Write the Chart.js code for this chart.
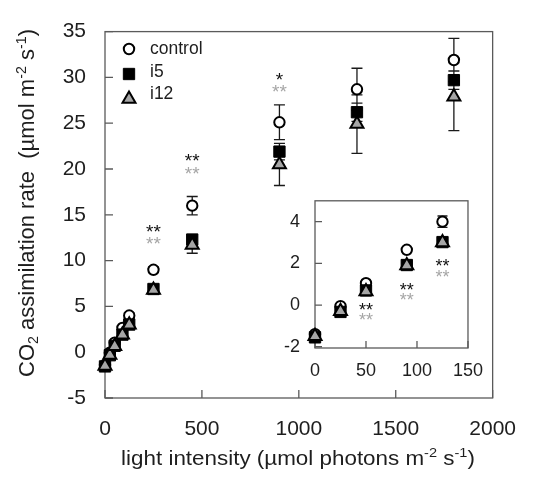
<!DOCTYPE html>
<html>
<head>
<meta charset="utf-8">
<script src="https://cdn.jsdelivr.net/npm/chart.js@4.4.1/dist/chart.umd.min.js"></script>
<style>
  body { margin: 0; background: #fff; }
  #wrap { position: relative; width: 535px; height: 478px; }
  #main { position: absolute; left: 0; top: 0; }
  #inset { position: absolute; left: 265px; top: 175px; }
</style>
</head>
<body>
<div id="wrap">
  <canvas id="main" width="535" height="478" style="width:535px;height:478px"></canvas>
  <canvas id="inset" width="230" height="210" style="width:230px;height:210px"></canvas>
</div>
<script>
// light intensity (umol photons m-2 s-1)
const light = [0, 25, 50, 90, 125, 250, 450, 900, 1300, 1800]

// CO2 assimilation rate, mean and error
const control    = [-1.4, -0.05, 1.05, 2.65, 4.0, 9.0, 16.0, 25.1, 28.7, 31.9]
const controlErr = [0.1, 0.12, 0.15, 0.12, 0.27, 0.3, 1.0, 1.9, 2.3, 2.35]
const i5         = [-1.55, -0.33, 0.7, 1.92, 3.02, 6.9, 12.3, 21.9, 26.2, 29.7]
const i5Err      = [0.1, 0.1, 0.12, 0.1, 0.12, 0.3, 0.5, 0.9, 1.0, 1.0]
const i12        = [-1.5, -0.3, 0.65, 1.9, 3.0, 6.8, 11.7, 20.5, 24.9, 27.9]
const i12Err     = [0.1, 0.1, 0.12, 0.1, 0.12, 0.3, 0.9, 2.3, 3.2, 3.7]

// axis ticks
const mainXTicks = [0, 500, 1000, 1500, 2000]
const mainYTicks = [-5, 0, 5, 10, 15, 20, 25, 30, 35]
const insetXTicks = [0, 50, 100, 150]
const insetYTicks = [-2, 0, 2, 4]

// significance marks (black = i5, gray = i12)
const starsMainX = [250, 450, 900]
const starsMainI5 = ['**', '**', '*']
const starsMainI5Y = [13.6, 21.3, 30.2]
const starsMainI12 = ['**', '**', '**']
const starsMainI12Y = [12.2, 19.9, 28.8]

const starsInsetX = [50, 90, 125]
const starsInsetI5 = ['**', '**', '**']
const starsInsetI5Y = [-0.07, 0.9, 2.03]
const starsInsetI12 = ['**', '**', '**']
const starsInsetI12Y = [-0.55, 0.39, 1.5]

const FONT = '"Liberation Sans", Arial, sans-serif'
const AXIS = '#5a5a5a'
const TXT = '#1e1e1e'
const GRAY = '#a6a6a6'

function pts(ys) {
  var out = []
  for (var i = 0; i < light.length; i++) out.push({ x: light[i], y: ys[i] })
  return out
}

function datasets(clip) {
  return [
    {
      label: 'i12', data: pts(i12), err: i12Err, order: 0,
      pointStyle: 'triangle', pointRadius: 7.5, backgroundColor: GRAY,
      borderColor: '#000', pointBorderWidth: 2, showLine: false, clip: clip
    },
    {
      label: 'i5', data: pts(i5), err: i5Err, order: 1,
      pointStyle: 'rect', pointRadius: 8, backgroundColor: '#000',
      borderColor: '#000', pointBorderWidth: 1, showLine: false, clip: clip
    },
    {
      label: 'control', data: pts(control), err: controlErr, order: 2,
      pointStyle: 'circle', pointRadius: 5.2, backgroundColor: '#fff',
      borderColor: '#000', pointBorderWidth: 2, showLine: false, clip: clip
    }
  ]
}

// text with super / subscripts: parts = [[text, 0|1|-1], ...]
function richWidth(ctx, parts, size) {
  var w = 0
  for (var i = 0; i < parts.length; i++) {
    ctx.font = (parts[i][1] ? size * 0.65 : size) + 'px ' + FONT
    w += ctx.measureText(parts[i][0]).width
  }
  return w
}
function drawRich(ctx, parts, x, y, size) {
  var w = richWidth(ctx, parts, size)
  var cx = x - w / 2
  ctx.textBaseline = 'alphabetic'
  ctx.textAlign = 'left'
  for (var i = 0; i < parts.length; i++) {
    var p = parts[i]
    ctx.font = (p[1] ? size * 0.65 : size) + 'px ' + FONT
    var dy = p[1] == 1 ? -size * 0.38 : (p[1] == -1 ? size * 0.2 : 0)
    ctx.fillText(p[0], cx, y + dy)
    cx += ctx.measureText(p[0]).width
  }
}

function makePlugin(cfg) {
  return {
    id: 'decor',
    beforeDatasetsDraw(chart) {
      var ctx = chart.ctx, a = chart.chartArea
      var xs = chart.scales.x, ys = chart.scales.y
      ctx.save()
      if (cfg.fill) {
        ctx.fillStyle = '#fff'
        ctx.fillRect(a.left, a.top, a.right - a.left, a.bottom - a.top)
      }
      // frame
      ctx.strokeStyle = AXIS
      ctx.lineWidth = 1.3
      ctx.strokeRect(a.left, a.top, a.right - a.left, a.bottom - a.top)
      // inward ticks
      ctx.beginPath()
      xs.ticks.forEach(t => {
        var px = xs.getPixelForValue(t.value)
        ctx.moveTo(px, a.bottom); ctx.lineTo(px, a.bottom - cfg.tick)
      })
      ys.ticks.forEach(t => {
        var py = ys.getPixelForValue(t.value)
        ctx.moveTo(a.left, py); ctx.lineTo(a.left + cfg.tick, py)
      })
      ctx.stroke()
      // error bars
      ctx.strokeStyle = '#1a1a1a'
      ctx.lineWidth = 1.3
      ctx.beginPath()
      chart.data.datasets.forEach(ds => {
        ds.data.forEach((p, i) => {
          if (p.x > xs.max) return
          var px = xs.getPixelForValue(p.x)
          var top = ys.getPixelForValue(p.y + ds.err[i])
          var bot = ys.getPixelForValue(p.y - ds.err[i])
          ctx.moveTo(px, top); ctx.lineTo(px, bot)
          ctx.moveTo(px - cfg.cap, top); ctx.lineTo(px + cfg.cap, top)
          ctx.moveTo(px - cfg.cap, bot); ctx.lineTo(px + cfg.cap, bot)
        })
      })
      ctx.stroke()
      // significance stars
      ctx.textAlign = 'center'
      ctx.textBaseline = 'middle'
      ctx.font = cfg.starSize + 'px ' + FONT
      for (var i = 0; i < cfg.starsX.length; i++) {
        var px = xs.getPixelForValue(cfg.starsX[i])
        ctx.fillStyle = '#111'
        ctx.fillText(cfg.starsA[i], px, ys.getPixelForValue(cfg.starsAY[i]) + cfg.starSize * 0.25)
        ctx.fillStyle = GRAY
        ctx.fillText(cfg.starsB[i], px, ys.getPixelForValue(cfg.starsBY[i]) + cfg.starSize * 0.25)
      }
      ctx.restore()
    },
    afterDraw(chart) {
      if (cfg.after) cfg.after(chart)
    }
  }
}

function drawMainExtras(chart) {
  var ctx = chart.ctx, a = chart.chartArea
  ctx.save()
  ctx.fillStyle = TXT
  // x title (slightly wide lettering, like the original figure)
  ctx.save()
  ctx.translate(298, 465)
  ctx.scale(1.12, 1)
  drawRich(ctx, [['light intensity (\u00b5mol photons m', 0], ['-2', 1], [' s', 0], ['-1', 1], [')', 0]],
    0, 0, 20)
  ctx.restore()
  // y title
  ctx.translate(34, 203)
  ctx.rotate(-Math.PI / 2)
  drawRich(ctx, [['CO', 0], ['2', -1], [' assimilation rate  (\u00b5mol m', 0], ['-2', 1], [' s', 0], ['-1', 1], [')', 0]],
    0, 0, 22)
  ctx.restore()

  // legend
  var items = [
    { name: 'control', style: 'circle', r: 5.2, fill: '#fff', bw: 2, my: 49, ty: 49 },
    { name: 'i5', style: 'rect', r: 8, fill: '#000', bw: 1, my: 74, ty: 72 },
    { name: 'i12', style: 'triangle', r: 7.5, fill: GRAY, bw: 2, my: 99, ty: 94 }
  ]
  ctx.save()
  items.forEach(it => {
    ctx.fillStyle = it.fill
    ctx.strokeStyle = '#000'
    ctx.lineWidth = it.bw
    Chart.helpers.drawPoint(ctx, { pointStyle: it.style, radius: it.r, borderWidth: it.bw }, 129, it.my)
    ctx.fillStyle = TXT
    ctx.font = '17.5px ' + FONT
    ctx.textAlign = 'left'
    ctx.textBaseline = 'middle'
    ctx.fillText(it.name, 150, it.ty)
  })
  ctx.restore()
}

const plain = v => String(v)

new Chart(document.getElementById('main'), {
  type: 'scatter',
  data: { datasets: datasets(false) },
  options: {
    responsive: false,
    animation: false,
    layout: { padding: { top: 24, right: 28, left: 0, bottom: 0 } },
    plugins: { legend: { display: false }, tooltip: { enabled: false } },
    scales: {
      x: {
        type: 'linear', min: 0, max: 2000,
        afterBuildTicks: s => { s.ticks = mainXTicks.map(v => ({ value: v })) },
        afterFit: s => { s.height = 80 },
        grid: { display: false, drawTicks: false },
        border: { display: false },
        ticks: { padding: 19, color: TXT, font: { size: 21, family: FONT }, maxRotation: 0, callback: plain }
      },
      y: {
        type: 'linear', min: -5, max: 35,
        afterBuildTicks: s => { s.ticks = mainYTicks.map(v => ({ value: v })) },
        afterFit: s => { s.width = 105 },
        grid: { display: false, drawTicks: false },
        border: { display: false },
        ticks: { padding: 19, color: TXT, font: { size: 21, family: FONT }, callback: plain }
      }
    }
  },
  plugins: [makePlugin({
    fill: false, tick: 8, cap: 5.5, starSize: 19,
    starsX: starsMainX, starsA: starsMainI5, starsAY: starsMainI5Y,
    starsB: starsMainI12, starsBY: starsMainI12Y,
    after: drawMainExtras
  })]
})

new Chart(document.getElementById('inset'), {
  type: 'scatter',
  data: { datasets: datasets({ left: 12, right: 0, top: 0, bottom: 0 }) },
  options: {
    responsive: false,
    animation: false,
    layout: { padding: { top: 10, right: 16, left: 0, bottom: 0 } },
    plugins: { legend: { display: false }, tooltip: { enabled: false } },
    scales: {
      x: {
        type: 'linear', min: 0, max: 150,
        afterBuildTicks: s => { s.ticks = insetXTicks.map(v => ({ value: v })) },
        afterFit: s => { s.height = 37 },
        grid: { display: false, drawTicks: false },
        border: { display: false },
        ticks: { padding: 12, color: TXT, font: { size: 18, family: FONT }, maxRotation: 0, callback: plain }
      },
      y: {
        type: 'linear', min: -2.06, max: 5,
        afterBuildTicks: s => { s.ticks = insetYTicks.map(v => ({ value: v })) },
        afterFit: s => { s.width = 50 },
        grid: { display: false, drawTicks: false },
        border: { display: false },
        ticks: { padding: 15, color: TXT, font: { size: 18, family: FONT }, callback: plain }
      }
    }
  },
  plugins: [makePlugin({
    fill: true, tick: 7, cap: 5, starSize: 18,
    starsX: starsInsetX, starsA: starsInsetI5, starsAY: starsInsetI5Y,
    starsB: starsInsetI12, starsBY: starsInsetI12Y
  })]
})
</script>
</body>
</html>
